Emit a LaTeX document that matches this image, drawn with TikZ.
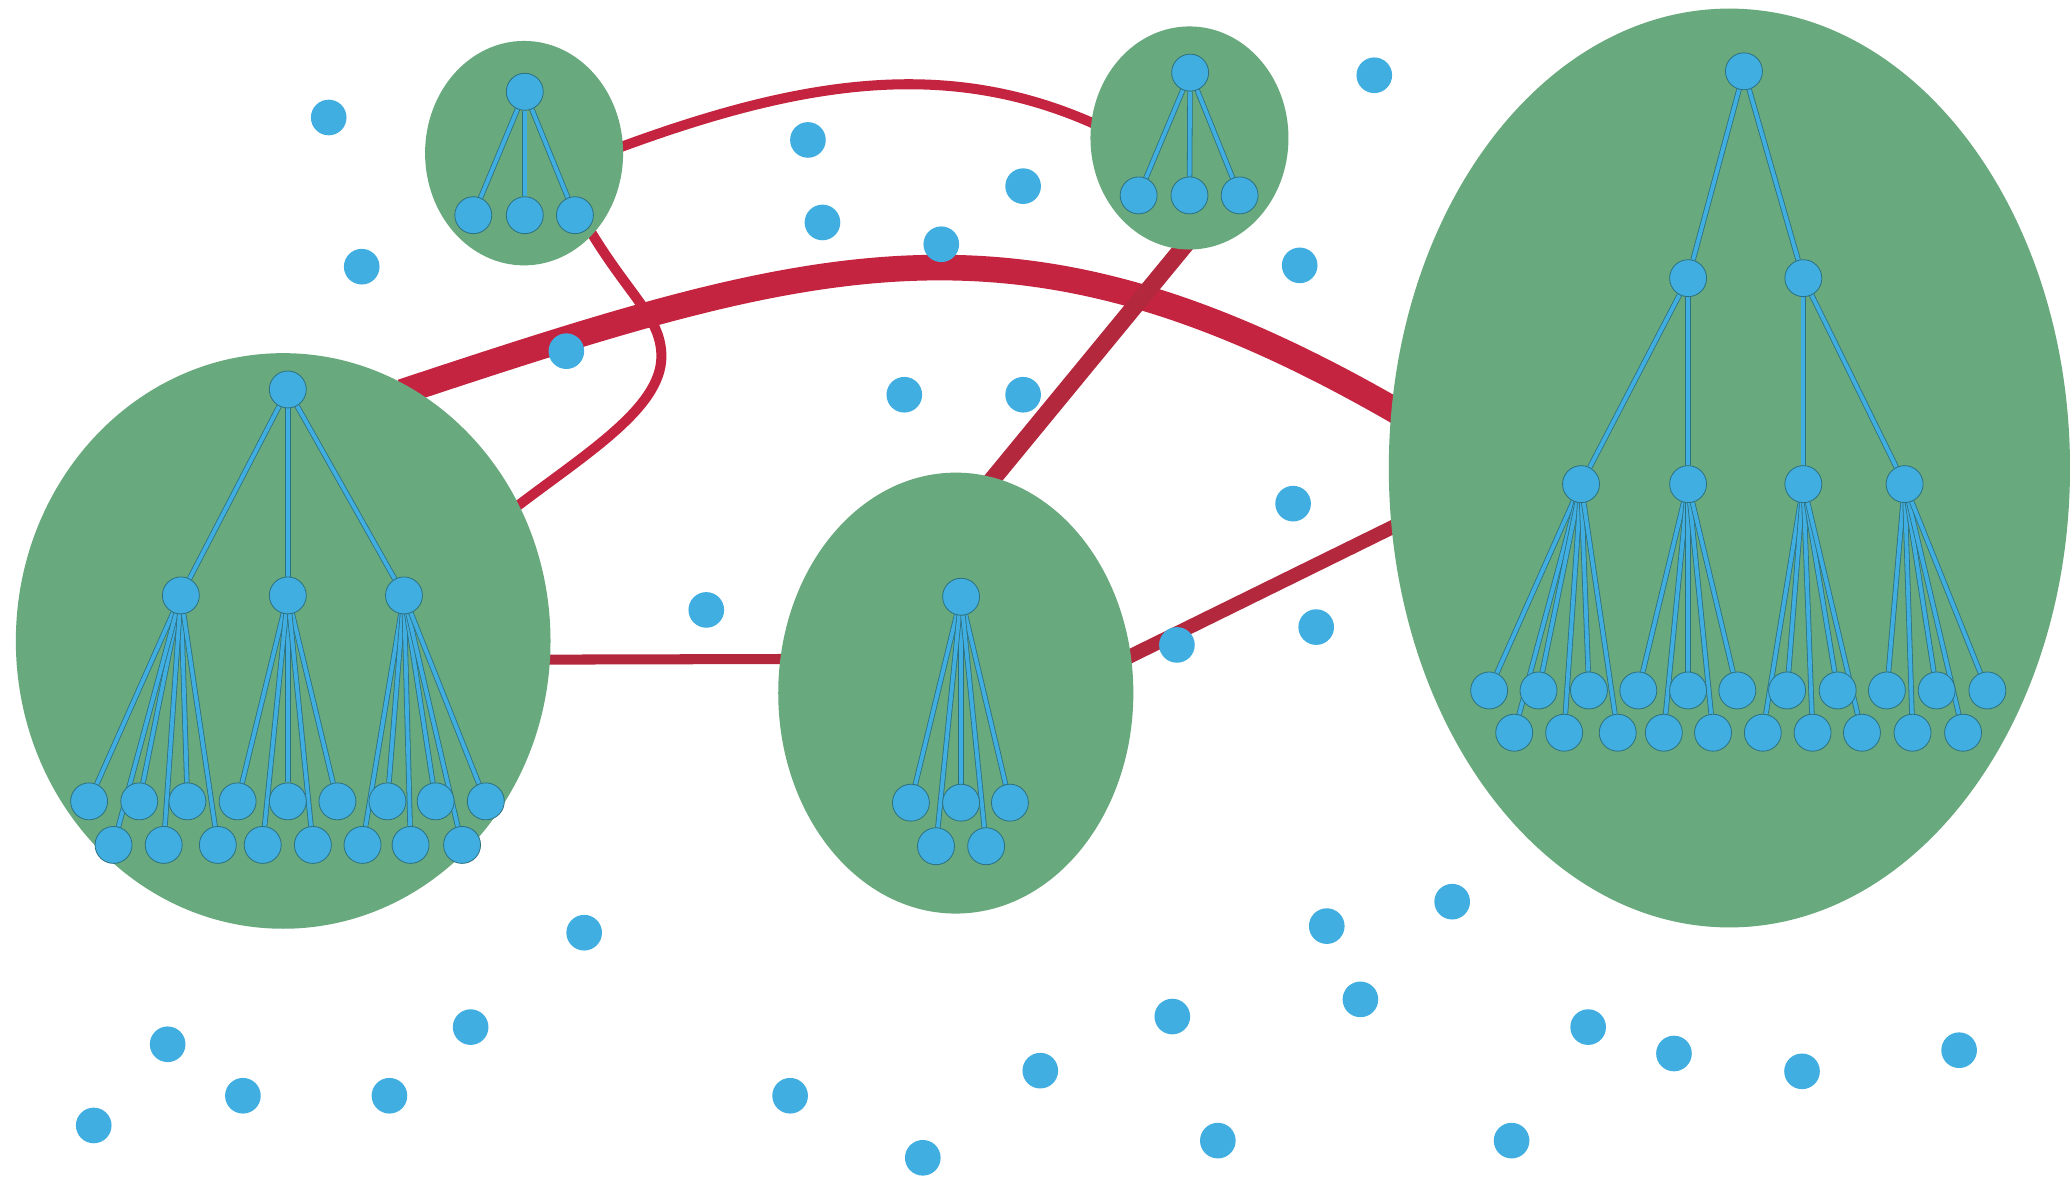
\documentclass[tikz,border=0pt]{standalone}
\usetikzlibrary{shapes.geometric}
\definecolor{grn}{RGB}{104,169,125}
\definecolor{blu}{RGB}{64,174,224}
\definecolor{bdk}{RGB}{45,112,128}
\definecolor{redA}{RGB}{196,36,64}
\definecolor{redB}{RGB}{180,40,62}
\pgfdeclarelayer{links}
\pgfdeclarelayer{clusters}
\pgfdeclarelayer{treeedges}
\pgfsetlayers{links,clusters,treeedges,main}
\begin{document}
\begin{tikzpicture}[x=0.5pt,y=-0.5pt,
  cluster/.style={ellipse, fill=grn, draw=none, inner sep=0pt, outer sep=0pt},
  tn/.style={circle, fill=blu, draw=bdk, line width=0.3pt, minimum size=14pt, inner sep=0pt},
  dot/.style={circle, fill=blu, draw=none, minimum size=13.5pt, inner sep=0pt},
  te/.style={draw=bdk, line width=0.3pt, double=blu, double distance=1.45pt},
  redlink/.style={shorten <=-4pt, shorten >=-4pt},
  linkA/.style={redlink, draw=redA, line width=3.8pt},
  linkB/.style={redlink, draw=redB, line width=3.8pt},
  linkthick/.style={redlink, draw=redA, line width=9.7pt},
  linkmid/.style={redlink, draw=redB, line width=6.5pt},
  linkf/.style={redlink, draw=redB, line width=5.3pt}]

\useasboundingbox (0,0) rectangle (1568,891);

% clusters
\begin{pgfonlayer}{clusters}
\node[cluster, minimum width=202.5pt, minimum height=218pt] (L) at (214.5,485.5) {};
\node[cluster, minimum width=75pt, minimum height=85pt] (TL) at (397,116) {};
\node[cluster, minimum width=75pt, minimum height=84.5pt] (TC) at (901,104.5) {};
\node[cluster, minimum width=134.5pt, minimum height=167pt] (M) at (724,525) {};
\node[cluster, minimum width=258pt, minimum height=348pt] (R) at (1310,354.5) {};
\end{pgfonlayer}

% red links
\begin{pgfonlayer}{links}
\fill[white] (0,0) rectangle (1568,891);
\draw[linkA] (TL.4.6) .. controls (608,60) and (719.5,43) .. (TC.171.2);
\draw[linkA] (TL.-50) .. controls (476,224) and (501,240) .. (501,270)
   .. controls (501,310) and (440.6,345.6) .. (L.30.5);
\draw[linkthick] (L.63.6) .. controls (624.5,190.7) and (774.1,147) .. (R.170);
\draw[linkmid] (TC.-94) -- (M.80);
\draw[linkB] (L.-4) -- (M.169.5);
\draw[linkf] (M.12.4) -- (R.-170);
\end{pgfonlayer}

% left tree
\node[tn] (La) at (218,295) {};
\node[tn] (Lb1) at (137,451) {};
\node[tn] (Lb2) at (218,451) {};
\node[tn] (Lb3) at (306,451) {};
\foreach \i/\x in {1/67.5,2/105.5,3/142,4/180,5/218,6/255.6,7/293.5,8/330,9/368}
  \node[tn] (Lu\i) at (\x,607) {};
\foreach \i/\x in {1/86,2/124,3/165,4/199,5/237,6/274.6,7/311,8/350}
  \node[tn] (Ll\i) at (\x,640) {};
\begin{pgfonlayer}{treeedges}
\foreach \c in {Lb1,Lb2,Lb3} \draw[te] (La) -- (\c);
\foreach \c in {Lu1,Lu2,Lu3,Ll1,Ll2,Ll3} \draw[te] (Lb1) -- (\c);
\foreach \c in {Lu4,Lu5,Lu6,Ll4,Ll5} \draw[te] (Lb2) -- (\c);
\foreach \c in {Ll6,Lu7,Ll7,Lu8,Ll8,Lu9} \draw[te] (Lb3) -- (\c);
\end{pgfonlayer}

% right tree
\node[tn] (Ra) at (1321,54) {};
\node[tn] (Rb1) at (1278.7,210.7) {};
\node[tn] (Rb2) at (1366,210.7) {};
\node[tn] (Rc1) at (1197.6,366.7) {};
\node[tn] (Rc2) at (1278.7,366.7) {};
\node[tn] (Rc3) at (1366,366.7) {};
\node[tn] (Rc4) at (1442.7,366.7) {};
\foreach \i/\x in {1/1128,2/1165.4,3/1203.6,4/1241,5/1278.7,6/1316,7/1353.7,8/1392,9/1429.3,10/1467,11/1505.4}
  \node[tn] (Ru\i) at (\x,523) {};
\foreach \i/\x in {1/1147,2/1184.8,3/1225.4,4/1260.3,5/1297.6,6/1335.3,7/1373,8/1410.4,9/1448.7,10/1487}
  \node[tn] (Rl\i) at (\x,555) {};
\begin{pgfonlayer}{treeedges}
\foreach \c in {Rb1,Rb2} \draw[te] (Ra) -- (\c);
\foreach \c in {Rc1,Rc2} \draw[te] (Rb1) -- (\c);
\foreach \c in {Rc3,Rc4} \draw[te] (Rb2) -- (\c);
\foreach \c in {Ru1,Rl1,Ru2,Rl2,Ru3,Rl3} \draw[te] (Rc1) -- (\c);
\foreach \c in {Ru4,Rl4,Ru5,Rl5,Ru6} \draw[te] (Rc2) -- (\c);
\foreach \c in {Rl6,Ru7,Rl7,Ru8,Rl8} \draw[te] (Rc3) -- (\c);
\foreach \c in {Ru9,Rl9,Ru10,Rl10,Ru11} \draw[te] (Rc4) -- (\c);
\end{pgfonlayer}

% middle tree
\node[tn] (Ma) at (728,452) {};
\node[tn] (Mu1) at (690,608) {};
\node[tn] (Mu2) at (728,608) {};
\node[tn] (Mu3) at (765,608) {};
\node[tn] (Ml1) at (709,641) {};
\node[tn] (Ml2) at (747,641) {};
\begin{pgfonlayer}{treeedges}
\foreach \c in {Mu1,Mu2,Mu3,Ml1,Ml2} \draw[te] (Ma) -- (\c);
\end{pgfonlayer}

% top-left small tree
\node[tn] (Ta) at (397.5,69.5) {};
\node[tn] (Tu1) at (358.5,163) {};
\node[tn] (Tu2) at (397.5,163) {};
\node[tn] (Tu3) at (435.5,163) {};
% top-centre small tree
\node[tn] (Ca) at (901.5,55) {};
\node[tn] (Cu1) at (862.5,148) {};
\node[tn] (Cu2) at (901,148) {};
\node[tn] (Cu3) at (939,148) {};
\begin{pgfonlayer}{treeedges}
\foreach \c in {Tu1,Tu2,Tu3} \draw[te] (Ta) -- (\c);
\foreach \c in {Cu1,Cu2,Cu3} \draw[te] (Ca) -- (\c);
\end{pgfonlayer}

% free dots
\foreach \n/\x/\y in {d1/249/89, d2/274/202, d3/429/266, d4/612/106, d5/623/168.5,
  d6/713/185, d7/775/141, d8/1041/57, d9/984.5/201, d10/685/299, d11/775/299,
  d12/979.5/381.5, d13/535/462, d14/891.5/488.5, d15/997/475,
  d16/442.5/706.5, d17/1005/701.5, d18/1100/683, d19/127/791, d20/356.5/778,
  d21/888/770, d22/1030.5/757, d23/1203/778, d24/1268/798, d25/1365/811.5,
  d26/1484/795.5, d27/184/830, d28/295/830, d29/598.5/830, d30/788/811,
  d31/71/852.5, d32/922.5/864, d33/1145/864, d34/699/877}
  \node[dot] (\n) at (\x,\y) {};
\end{tikzpicture}
\end{document}
